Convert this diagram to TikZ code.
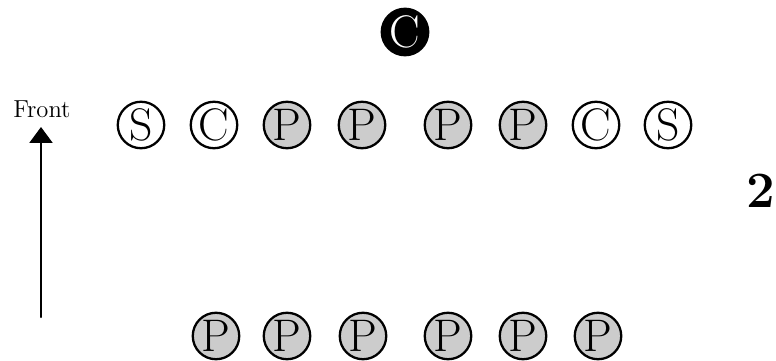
\documentclass[tikz,border=0pt]{standalone}
\usetikzlibrary{arrows.meta}
\begin{document}
\begin{tikzpicture}[x=0.02cm, y=0.02cm, line cap=round, line join=round,
	seat/.style={circle, draw, line width=1.3pt, minimum size=0.93cm, inner sep=0pt,
		font=\fontsize{26}{26}\selectfont},
	player/.style={seat, fill=black!20},
	coach/.style={seat, fill=black, text=white}]
	\useasboundingbox (0,0) rectangle (776,361);
	% top
	\node[coach] (top) at (405,329) {C};
	% first row
	\foreach \x/\l/\s [count=\i] in {141/S/seat, 214/C/seat, 287/P/player, 362/P/player,
		448/P/player, 523/P/player, 596/C/seat, 668/S/seat}
		\node[\s] (a\i) at (\x,236) {\l};
	% back row
	\foreach \x [count=\i] in {216,287,363,448,523,598}
		\node[player] (b\i) at (\x,25) {P};
	% direction
	\path (41,44) coordinate (tail)
		(41,234) coordinate (head);
	\draw[line width=1.2pt, -{Triangle[width=13pt, length=9pt]}] (tail) -- (head);
	\node[font=\fontsize{14}{14}\selectfont, anchor=base] (front) at (42,243) {Front};
	\node[font=\fontsize{29}{29}\selectfont\bfseries, anchor=base west, inner sep=0pt] (two) at (746,153) {2};
\end{tikzpicture}
\end{document}
